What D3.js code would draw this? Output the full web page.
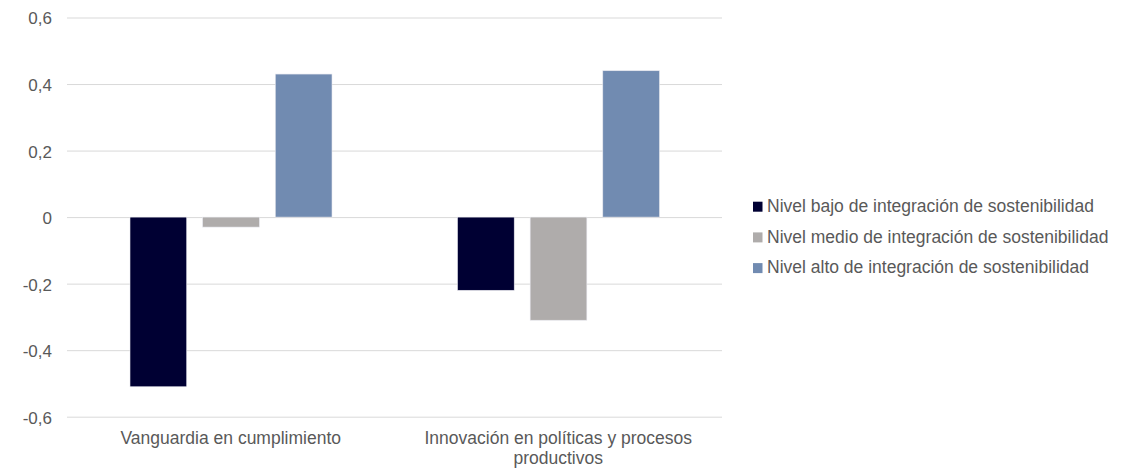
<!DOCTYPE html>
<html><head><meta charset="utf-8">
<script src="https://cdn.jsdelivr.net/npm/d3@7"></script>
<style>body{margin:0;background:#fff}svg{display:block}text{font-family:"Liberation Sans",Arial,sans-serif;fill:#595959}</style>
</head><body><svg id="c" width="1136" height="469"></svg>
<script>
const categories = [["Vanguardia en cumplimiento"], ["Innovación en políticas y procesos", "productivos"]];
const seriesNames = ["Nivel bajo de integración de sostenibilidad", "Nivel medio de integración de sostenibilidad", "Nivel alto de integración de sostenibilidad"];
const bajo = [-0.51, -0.22];
const medio = [-0.03, -0.31];
const alto = [0.43, 0.44];
const yTicks = [-0.6, -0.4, -0.2, 0, 0.2, 0.4, 0.6];
const colors = ["#000033", "#AFACAB", "#718BB1"];

const series = [bajo, medio, alto];
const svg = d3.select("#c");
const L = 67, R = 722, T = 17.5, B = 416.7;
const y = d3.scaleLinear().domain([-0.6, 0.6]).range([B, T]);
const x0 = d3.scaleBand().domain(d3.range(categories.length)).range([L, R]).paddingInner(0).paddingOuter(0);
const x1 = d3.scaleBand().domain(d3.range(series.length)).range([63, 265]).paddingInner(16/73);

const fmt = v => v === 0 ? "0" : d3.format(".1f")(v).replace(".", ",").replace("−", "-");
const yAxis = d3.axisLeft(y).tickValues(yTicks).tickSize(-(R - L)).tickFormat(fmt);
const gy = svg.append("g").attr("transform", `translate(${L},0)`).call(yAxis);
gy.select(".domain").remove();
gy.selectAll(".tick line").attr("stroke", "#d9d9d9").attr("stroke-width", 1);
gy.selectAll(".tick text").attr("x", -15).attr("font-size", 17).attr("dy", "0.38em").style("fill", "#595959");

const g = svg.append("g");
categories.forEach((c, ci) => {
  series.forEach((s, si) => {
    const v = s[ci];
    g.append("rect")
      .attr("x", x0(ci) + x1(si))
      .attr("width", x1.bandwidth())
      .attr("y", y(Math.max(0, v)))
      .attr("height", Math.abs(y(v) - y(0)))
      .attr("fill", colors[si])
      .attr("stroke", "#e8e8ee").attr("stroke-width", 0.6);
  });
  const t = svg.append("text").attr("text-anchor", "middle").attr("font-size", 17.5)
    .attr("x", x0(ci) + x0.bandwidth() / 2).attr("y", 444);
  c.forEach((line, li) => t.append("tspan").attr("x", x0(ci) + x0.bandwidth() / 2).attr("dy", li ? 19.5 : 0).text(line));
});

const lg = svg.append("g").attr("transform", "translate(753,0)");
seriesNames.forEach((n, i) => {
  const base = 212 + i * 30.7;
  lg.append("rect").attr("x", 0).attr("y", base - 10.3).attr("width", 9.5).attr("height", 10).attr("fill", colors[i]);
  lg.append("text").attr("x", 14).attr("y", base).attr("font-size", 17.5).text(n);
});
</script></body></html>
